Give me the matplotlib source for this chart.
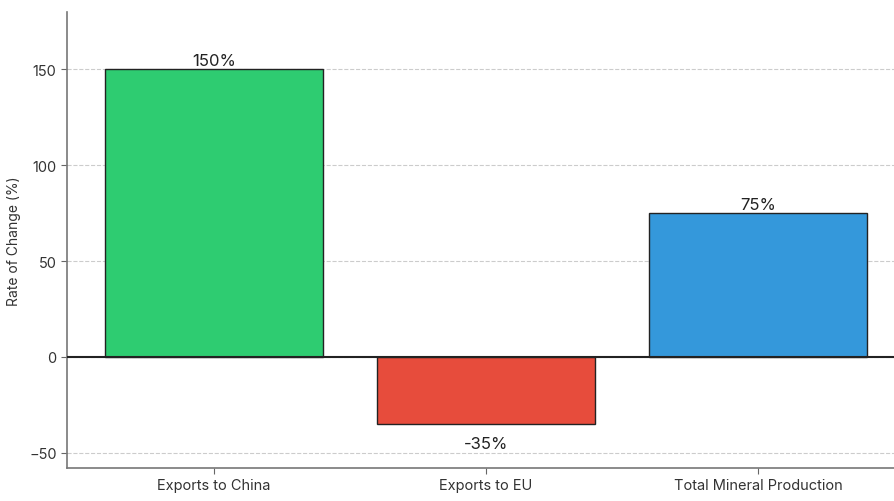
import matplotlib.pyplot as plt
import numpy as np

categories = ['Exports to China', 'Exports to EU', 'Total Mineral Production']
rates = [150, -35, 75]
bar_colors = ['#2ecc71', '#e74c3c', '#3498db']
title = '(b) Rate of Change Following the Mining Supply Shock'

plt.rcParams['font.family'] = ['Inter', 'DejaVu Sans']

fig = plt.figure(figsize=(8.94, 5.02), dpi=100)
ax = fig.add_axes([67 / 894, 33 / 502, 838 / 894, 456 / 502])

x = np.arange(len(categories))
ax.bar(x, rates, width=0.8, color=bar_colors, edgecolor='#222222', linewidth=1.0, zorder=3)
ax.axhline(0, color='#222222', linewidth=1.5, zorder=4)

for xi, v in zip(x, rates):
    if v >= 0:
        ax.annotate(f'{v}%', (xi, v), xytext=(0, 1), textcoords='offset points',
                    ha='center', va='bottom', fontsize=12, color='#222222')
    else:
        ax.annotate(f'{v}%', (xi, v), xytext=(0, -9), textcoords='offset points',
                    ha='center', va='top', fontsize=12, color='#222222')

ax.set_xlim(-0.54, 2.54)
ax.set_ylim(-58, 180)
ax.set_yticks([-50, 0, 50, 100, 150])
ax.set_xticks(x)
ax.set_xticklabels(categories, fontsize=10.5)
ax.tick_params(axis='y', labelsize=10.5, colors='#333333', length=4, color='#666666')
ax.tick_params(axis='x', colors='#333333', length=4, color='#666666')
ax.set_ylabel('Rate of Change (%)', fontsize=10, color='#333333', labelpad=6)

ax.yaxis.grid(True, linestyle='--', color='#cccccc', linewidth=0.8, zorder=0)
ax.set_axisbelow(True)
for s in ['top', 'right']:
    ax.spines[s].set_visible(False)
for s in ['left', 'bottom']:
    ax.spines[s].set_color('#777777')
    ax.spines[s].set_linewidth(1.2)

# title sits above the canvas, only its descenders show
fig.text(5 / 894, 1 + 5 / 502, title, fontsize=15, fontweight='bold',
         family='Liberation Serif', ha='left', va='baseline')

fig.savefig('out.png', dpi=100)
